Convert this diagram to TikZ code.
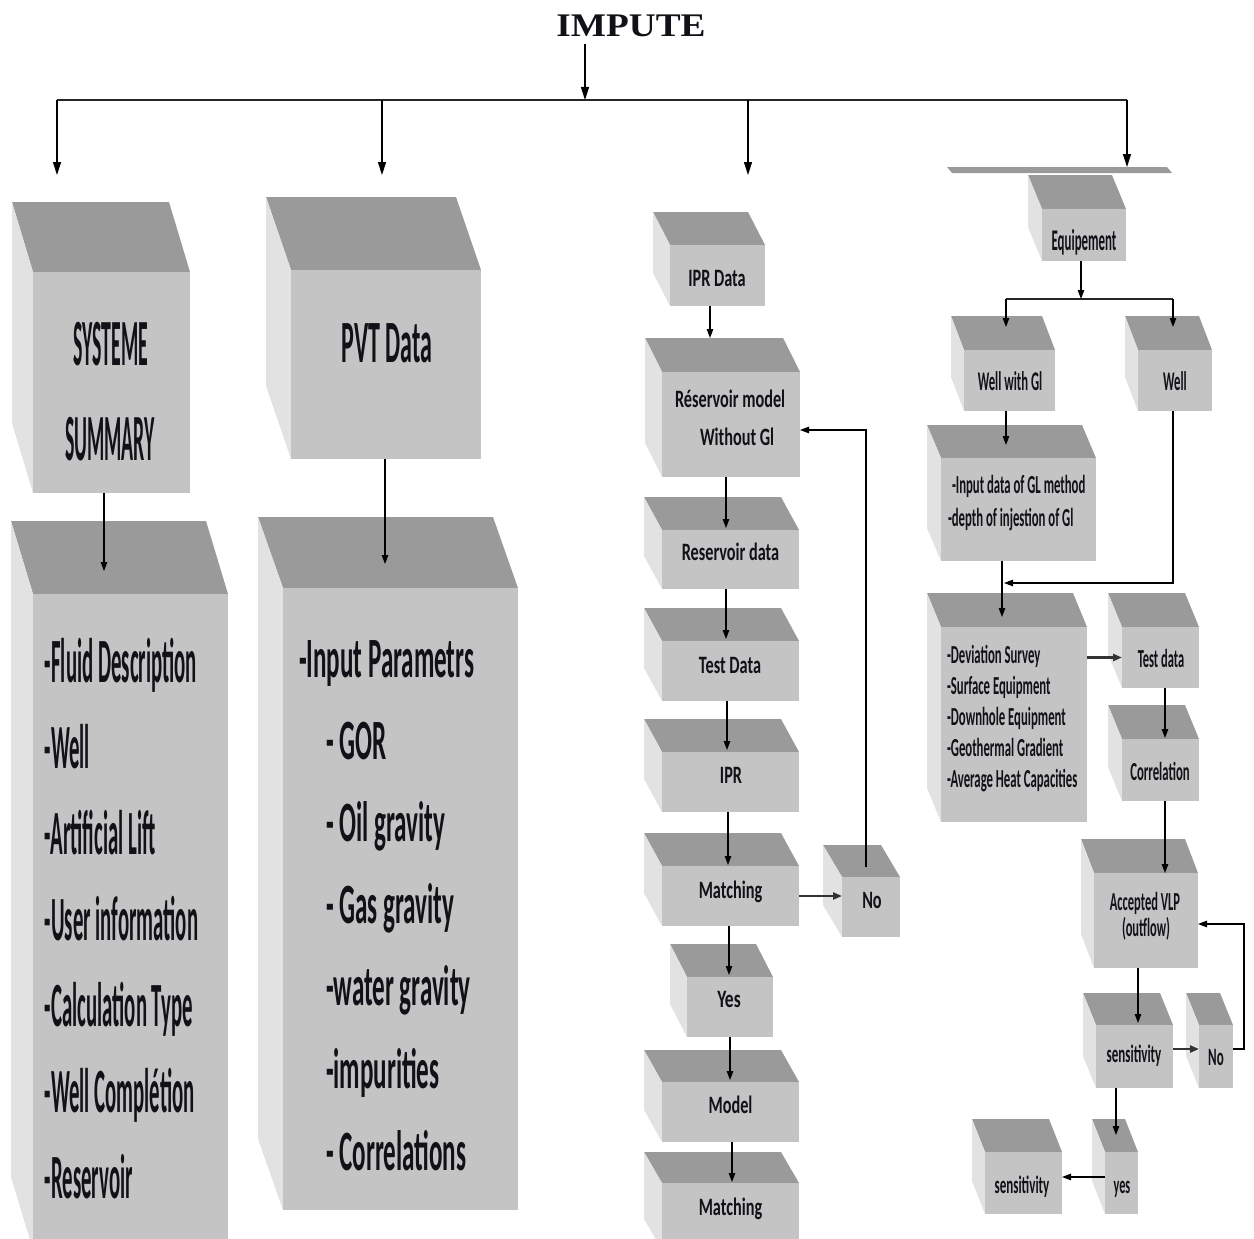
\documentclass[tikz,border=0pt]{standalone}
\usepackage{fontspec}
\setmainfont{Carlito}
\newfontfamily\titlefont{Liberation Serif}
\usetikzlibrary{arrows.meta}
\definecolor{topc}{HTML}{9A9A9A}
\definecolor{frontc}{HTML}{C4C4C4}
\definecolor{sidec}{HTML}{E2E2E2}
\definecolor{inkc}{HTML}{111118}
\newcommand\sx[3]{\scalebox{#1}[1]{\fontsize{#2}{#2}\selectfont\bfseries #3}}
% name, x1, y1, x2, y2, dx, dy  (front face + extrusion)
\newcommand\cubebox[7]{%
  \fill[topc] (#2-#6,#3-#7) -- (#4-#6,#3-#7) -- (#4,#3) -- (#2,#3) -- cycle;
  \fill[sidec] (#2-#6,#3-#7) -- (#2,#3) -- (#2,#5) -- (#2-#6,#5-#7) -- cycle;
  \node[frontface, minimum width={(#4-#2)*1pt}, minimum height={(#5-#3)*1pt}] (#1) at ({(#2+#4)/2},{(#3+#5)/2}) {};
}
\newcommand\vconn[4]{%
  \path ([xshift=#3pt]#1.south) coordinate (vcs);
  \path (vcs |- #2.north) coordinate (vce);
  \draw[arr] (vcs) -- ([yshift=#4pt]vce);
}
\begin{document}
\begin{tikzpicture}[x=1pt,y=-1pt,
  frontface/.style={fill=frontc, draw=none, inner sep=0pt, outer sep=0pt},
  lbl/.style={inner sep=0pt, outer sep=0pt, text=inkc},
  arr/.style={draw=black, line width=1.1pt, -{Triangle[length=9pt,width=6.5pt]}},
  arrbig/.style={draw=black, line width=1.4pt, -{Triangle[length=13pt,width=8pt]}},
  arrthick/.style={draw=black!80, line width=2.2pt, -{Triangle[length=9pt,width=7pt]}},
  bus/.style={draw=black!85, line width=2pt}]
\useasboundingbox (0,0) rectangle (1254,1239);
\clip (0,0) rectangle (1254,1239);

% ---------- title and bus ----------
\node[lbl, anchor=base] (title) at (631,37) {\scalebox{1.13}[1]{\titlefont\bfseries\fontsize{33}{33}\selectfont IMPUTE}};
\coordinate (busL) at (57,100);
\coordinate (busR) at (1127,100);
\coordinate (busM) at (585,100);
\coordinate (b2) at (382,100);
\coordinate (b3) at (748,100);
\coordinate (d1) at (57,175);
\coordinate (d2) at (382,175);
\coordinate (d3) at (748,175);
\coordinate (d4) at (1127,167);
\draw[bus] (busL) -- (busR);
\path (title.south -| busM) coordinate (tt);
\draw[arrbig] ([yshift=-7pt]tt) -- (busM);
\draw[arrbig] (busL) -- (d1);
\draw[arrbig] (b2) -- (d2);
\draw[arrbig] (b3) -- (d3);
\draw[arrbig] (busR) -- (d4);

% ---------- column 1 ----------
\cubebox{sys}{33}{272}{190}{493}{21}{70}
\cubebox{fluid}{33}{594}{228}{1250}{22}{73}
\node[lbl, anchor=base] (tsys1) at (111,365) {\sx{0.30}{66}{SYSTEME}};
\node[lbl, anchor=base] (tsys2) at (110,460) {\sx{0.30}{66}{SUMMARY}};
\foreach \t [count=\i] in {-Fluid Description,-Well,-Artificial Lift,-User information,-Calculation Type,-Well Complétion,-Reservoir}
  \node[lbl, anchor=base west] (fl\i) at (45,{682+86*(\i-1)}) {\sx{0.33}{63}{\t}};

% ---------- column 2 ----------
\cubebox{pvt}{291}{270}{481}{459}{25}{73}
\cubebox{pvtl}{283}{588}{518}{1210}{25}{71}
\node[lbl, anchor=base] (tpvt) at (387,362) {\sx{0.40}{60}{PVT Data}};
\node[lbl, anchor=base west] (pv1) at (299,677) {\sx{0.44}{57}{-Input Parametrs}};
\foreach \t [count=\i] in {- GOR,- Oil gravity,- Gas gravity,-water gravity,-impurities,- Correlations}
  \node[lbl, anchor=base west] (pv\i x) at (326,{677+82.2*\i}) {\sx{0.44}{57}{\t}};

% ---------- column 3 ----------
\cubebox{iprd}{670}{245}{765}{306}{17}{33}
\cubebox{resm}{662}{372}{800}{477}{17}{34}
\cubebox{resd}{662}{530}{799}{589}{18}{33}
\cubebox{testd}{662}{641}{799}{701}{18}{33}
\cubebox{ipr}{662}{752}{799}{812}{18}{33}
\cubebox{match1}{662}{866}{799}{926}{18}{33}
\cubebox{no1}{842}{877}{900}{937}{19}{32}
\cubebox{yes}{687}{977}{773}{1037}{17}{33}
\cubebox{model}{662}{1082}{799}{1142}{18}{32}
\cubebox{match2}{662}{1183}{799}{1250}{18}{31}
\node[lbl, anchor=base] (tiprd) at (717,286) {\sx{0.65}{25}{IPR Data}};
\node[lbl, anchor=base west] (tres1) at (675,407) {\sx{0.65}{25}{Réservoir model}};
\node[lbl, anchor=base west] (tres2) at (700,445) {\sx{0.65}{25}{Without Gl}};
\node[lbl, anchor=base] (tresd) at (730.5,560) {\sx{0.65}{25}{Reservoir data}};
\node[lbl, anchor=base] (ttestd) at (730,673) {\sx{0.65}{25}{Test Data}};
\node[lbl, anchor=base] (tipr) at (731,783) {\sx{0.65}{25}{IPR}};
\node[lbl, anchor=base] (tmatch1) at (730.5,898) {\sx{0.65}{25}{Matching}};
\node[lbl, anchor=base] (tno1) at (872,908) {\sx{0.65}{25}{No}};
\node[lbl, anchor=base] (tyes) at (729,1007) {\sx{0.70}{25}{Yes}};
\node[lbl, anchor=base] (tmodel) at (730.5,1113) {\sx{0.65}{25}{Model}};
\node[lbl, anchor=base] (tmatch2) at (730.5,1215) {\sx{0.65}{25}{Matching}};

% ---------- column 4 ----------
\fill[topc] (947,167) -- (1167,167) -- (1172,173) -- (952,173) -- cycle;
\cubebox{equip}{1042}{209}{1126}{261}{14}{34}
\cubebox{wellgl}{964}{350}{1055}{411}{13}{34}
\cubebox{well}{1138}{350}{1212}{411}{13}{34}
\cubebox{inputd}{941}{458}{1096}{561}{14}{33}
\cubebox{devi}{941}{627}{1087}{822}{14}{34}
\cubebox{testdata}{1122}{627}{1199}{688}{14}{34}
\cubebox{corr}{1122}{739}{1199}{801}{14}{34}
\cubebox{acc}{1094}{873}{1198}{968}{13}{34}
\cubebox{sens}{1096}{1025}{1173}{1088}{13}{32}
\cubebox{no2}{1199}{1025}{1233}{1088}{13}{32}
\cubebox{yes2}{1105}{1152}{1138}{1214}{13}{33}
\cubebox{sens2}{985}{1152}{1062}{1214}{13}{33}
\node[lbl, anchor=base] (tequip) at (1084,250) {\sx{0.43}{30}{Equipement}};
\node[lbl, anchor=base] (twellgl) at (1010,390) {\sx{0.47}{27}{Well with Gl}};
\node[lbl, anchor=base] (twell) at (1175,390) {\sx{0.47}{27}{Well}};
\node[lbl, anchor=base west] (tin1) at (952,493) {\sx{0.49}{26}{-Input data of GL method}};
\node[lbl, anchor=base west] (tin2) at (948,526) {\sx{0.49}{26}{-depth of injestion of Gl}};
\foreach \t [count=\i] in {-Deviation Survey,-Surface Equipment,-Downhole Equipment,-Geothermal Gradient,-Average Heat Capacities}
  \node[lbl, anchor=base west] (dv\i) at (947,{663+31*(\i-1)}) {\sx{0.49}{26}{\t}};
\node[lbl, anchor=base] (ttestdata) at (1161,667) {\sx{0.48}{26}{Test data}};
\node[lbl, anchor=base] (tcorr) at (1160,780) {\sx{0.49}{26}{Correlation}};
\node[lbl, anchor=base] (tacc1) at (1145,910) {\sx{0.48}{26}{Accepted VLP}};
\node[lbl, anchor=base] (tacc2) at (1146,936) {\sx{0.48}{26}{(outflow)}};
\node[lbl, anchor=base] (tsens) at (1134,1062) {\sx{0.52}{25}{sensitivity}};
\node[lbl, anchor=base] (tno2) at (1216,1065) {\sx{0.52}{25}{No}};
\node[lbl, anchor=base] (tyes2) at (1122,1193) {\sx{0.49}{25}{yes}};
\node[lbl, anchor=base] (tsens2) at (1022,1193) {\sx{0.52}{25}{sensitivity}};

% ---------- connectors ----------
\vconn{sys}{fluid}{-7.5}{23}
\vconn{pvt}{pvtl}{-1}{24}
\vconn{iprd}{resm}{-7.5}{34}
\vconn{resm}{resd}{-5}{2}
\vconn{resd}{testd}{-4.5}{2}
\vconn{testd}{ipr}{-3.5}{2}
\vconn{ipr}{match1}{-2.5}{1}
\vconn{match1}{yes}{-1.5}{2}
\vconn{yes}{model}{0}{2}
\vconn{model}{match2}{1.5}{1}
\draw[arrthick] (match1.east) -- (match1.east -| no1.west);
\coordinate (resmR) at ([yshift=-5.5pt]resm.east);
\draw[arr] ([xshift=-5pt,yshift=10pt]no1.north) |- (resmR);

\coordinate (splitL) at (1006,299);
\coordinate (splitR) at (1173,299);
\coordinate (splitM) at (1081,299);
\draw[bus] (splitL) -- (splitR);
\draw[arr] (equip.south -| splitM) -- (splitM);
\path (splitL |- wellgl.north) coordinate (wgtop);
\draw[arr] (splitL) -- ([yshift=23pt]wgtop);
\path (splitR |- well.north) coordinate (wtop);
\draw[arr] (splitR) -- ([yshift=23pt]wtop);
\vconn{wellgl}{inputd}{-3.5}{13}
\vconn{inputd}{devi}{-16.5}{10}
\coordinate (joinpt) at (1004,583);
\draw[arr] ([xshift=-2pt]well.south) |- (joinpt);
\draw[arrthick] (testdata.west -| devi.east) -- (testdata.west);
\vconn{testdata}{corr}{4.5}{1}
\vconn{corr}{acc}{4.5}{0}
\vconn{acc}{sens}{-8}{2}
\draw[arrthick] ([yshift=7.5pt]sens.east) -- ([yshift=7.5pt]no2.west);
\coordinate (accR) at ([yshift=-3.5pt]acc.east);
\draw[arr] ([yshift=7.5pt]no2.east) -- ++(11pt,0) |- (accR);
\vconn{sens}{yes2}{-18.5}{17}
\draw[arr] ([yshift=6pt]yes2.west) -- ([yshift=6pt]sens2.east);
\end{tikzpicture}
\end{document}
